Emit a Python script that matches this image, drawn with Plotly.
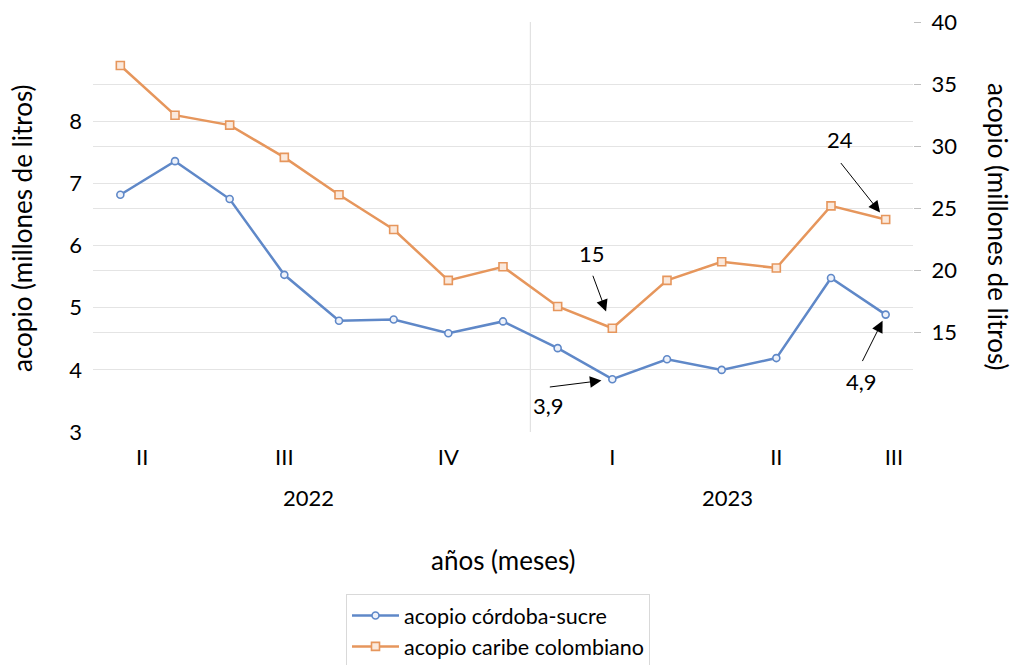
import plotly.graph_objects as go

meses = ["may", "jun", "jul", "ago", "sep", "oct", "nov", "dic",
         "ene", "feb", "mar", "abr", "may", "jun", "jul"]
anios = ["2022"] * 8 + ["2023"] * 7
cordoba_sucre = [6.82, 7.36, 6.75, 5.53, 4.79, 4.81, 4.59, 4.78,
                 4.35, 3.85, 4.17, 4.00, 4.19, 5.48, 4.89]
caribe = [36.5, 32.5, 31.7, 29.1, 26.1, 23.3, 19.2, 20.3,
          17.1, 15.35, 19.2, 20.7, 20.2, 25.2, 24.1]
trimestres = ["II", "III", "IV", "I", "II", "III"]
trim_pos = [0.4, 3, 6, 9, 12, 14.15]
years = ["2022", "2023"]
year_pos = [3.45, 11.1]
left_ticks = [3, 4, 5, 6, 7, 8]
right_ticks = [15, 20, 25, 30, 35, 40]

x = list(range(len(meses)))
FONT = "Lato"
BLUE = "#5F88C8"
ORANGE = "#E6965C"
GRID = "#E4E4E4"

left_range = [3, 9.6]
right_range = [7, 40]

fig = go.Figure()
# carrier traces for the grid-only overlay axes
fig.add_trace(go.Scatter(x=[None], y=[None], yaxis="y3", showlegend=False, hoverinfo="skip"))
fig.add_trace(go.Scatter(x=[None], y=[None], yaxis="y4", showlegend=False, hoverinfo="skip"))
fig.add_trace(go.Scatter(
    x=x, y=cordoba_sucre, name="acopio córdoba-sucre", mode="lines+markers",
    line=dict(color=BLUE, width=2.5),
    marker=dict(symbol="circle", size=7, color="#EEF2FA", line=dict(color=BLUE, width=1.6)),
    yaxis="y"))
fig.add_trace(go.Scatter(
    x=x, y=caribe, name="acopio caribe colombiano", mode="lines+markers",
    line=dict(color=ORANGE, width=2.5),
    marker=dict(symbol="square", size=8, color="#FBE9DC", line=dict(color=ORANGE, width=1.6)),
    yaxis="y2"))

fig.update_layout(
    width=1014, height=665,
    margin=dict(l=93, r=101, t=22, b=233, autoexpand=False),
    paper_bgcolor="white", plot_bgcolor="white",
    font=dict(family=FONT, size=22, color="#000000"),
    xaxis=dict(range=[-0.5, 14.5], showgrid=False, zeroline=False, showline=False,
               tickvals=trim_pos, ticktext=trimestres, ticks="", ticklabelstandoff=10,
               tickfont=dict(size=22)),
    yaxis=dict(range=left_range, tickvals=left_ticks, showgrid=False, zeroline=False,
               showline=False, ticks="", ticklabelstandoff=10),
    yaxis2=dict(range=right_range, tickvals=right_ticks, overlaying="y", side="right",
                showgrid=False, zeroline=False, showline=False, ticks="outside",
                ticklen=7, tickcolor="#BFBFBF", ticklabelstandoff=6),
    yaxis3=dict(range=left_range, tickvals=left_ticks[1:], overlaying="y", side="left",
                showgrid=True, gridcolor=GRID, gridwidth=1, showticklabels=False,
                zeroline=False, showline=False, ticks=""),
    yaxis4=dict(range=right_range, tickvals=right_ticks[:-1], overlaying="y", side="right",
                showgrid=True, gridcolor=GRID, gridwidth=1, showticklabels=False,
                zeroline=False, showline=False, ticks=""),
    showlegend=True,
    legend=dict(x=(346 - 93) / 820, y=(432 - 594) / 410, xanchor="left", yanchor="top",
                bordercolor="#D9D9D9", borderwidth=1, bgcolor="white",
                font=dict(size=21.5), tracegroupgap=4, itemwidth=47, entrywidth=250),
)

# separator between years
fig.add_shape(type="line", xref="x", yref="paper", x0=7.5, x1=7.5, y0=0, y1=1,
              line=dict(color="#DDDDDD", width=1), layer="below")

TITLE_SIZE = 26
annotations = []
for yr, pos in zip(years, year_pos):
    annotations.append(dict(x=pos, y=(432 - 498) / 410, xref="x", yref="paper", text=yr,
                            showarrow=False, font=dict(size=22), yanchor="middle"))
annotations.append(dict(x=0.5, y=(432 - 560) / 410, xref="paper", yref="paper",
                        text="años (meses)", showarrow=False,
                        font=dict(size=TITLE_SIZE), yanchor="middle"))
annotations.append(dict(x=(22 - 93) / 820, y=(432 - 228) / 410, xref="paper", yref="paper",
                        text="acopio (millones de litros)", showarrow=False, textangle=-90,
                        font=dict(size=TITLE_SIZE), xanchor="center", yanchor="middle"))
annotations.append(dict(x=(998 - 93) / 820, y=(432 - 227) / 410, xref="paper", yref="paper",
                        text="acopio (millones de litros)", showarrow=False, textangle=90,
                        font=dict(size=TITLE_SIZE), xanchor="center", yanchor="middle"))

# callouts: (index, series, axis, label, text shift, arrow tail, standoff)
callouts = [
    (9, caribe, "y2", "15", (-20, 75), (-20, -54), 18),
    (14, caribe, "y2", "24", (-46, 80), (-46, -58), 9),
    (9, cordoba_sucre, "y", "3,9", (-64, -26), (-64, 8), 11),
    (14, cordoba_sucre, "y", "4,9", (-24, -67), (-24, 48), 7),
]
for i, series, ax_, label, tshift, tail, so in callouts:
    val = series[i]
    annotations.append(dict(x=i, y=val, xref="x", yref=ax_, text=label, showarrow=False,
                            xshift=tshift[0], yshift=tshift[1], font=dict(size=22)))
    annotations.append(dict(x=i, y=val, xref="x", yref=ax_, text="", showarrow=True,
                            ax=tail[0], ay=tail[1], axref="pixel", ayref="pixel",
                            arrowhead=2, arrowsize=2.3, arrowwidth=1, arrowcolor="#000000",
                            standoff=so))
fig.update_layout(annotations=annotations)

fig.write_html("out.html", config={"displayModeBar": False},
               post_script="document.body.style.margin='0';document.body.style.overflow='hidden';")
